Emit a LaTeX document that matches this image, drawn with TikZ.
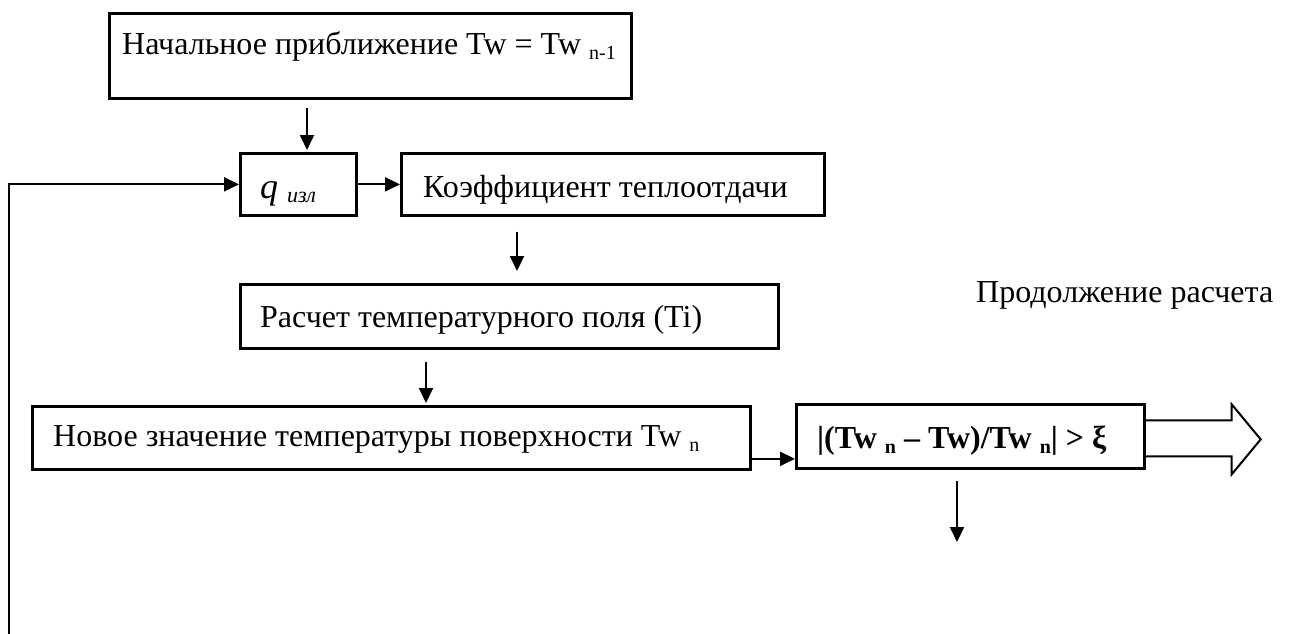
\documentclass[tikz,border=0pt]{standalone}
\usepackage{fontspec}
\setmainfont{Liberation Serif}
\usetikzlibrary{arrows.meta}
\newcommand{\sbs}[1]{\raisebox{-5pt}{\fontsize{20}{20}\selectfont #1}}
\tikzset{
  x=1pt, y=-1pt,
  box/.style={draw, line width=2.7pt, inner sep=0pt, anchor=north west},
  txt/.style={inner sep=0pt, anchor=base west, font=\fontsize{32}{38}\selectfont},
  arr/.style={line width=2pt, -{Triangle[length=15pt,width=14pt]}},
}
\begin{document}
\begin{tikzpicture}
\useasboundingbox (0,0) rectangle (1294,634);
% boxes
\node[box, minimum width=522, minimum height=85] (init) at (108,12) {};
\node[box, minimum width=116, minimum height=62] (q) at (239,152) {};
\node[box, minimum width=423, minimum height=62] (K) at (400,152) {};
\node[box, minimum width=538, minimum height=64] (R) at (239,283) {};
\node[box, minimum width=718, minimum height=63] (N) at (31,405) {};
\node[box, minimum width=348, minimum height=64] (C) at (795,403) {};
% texts
\node[txt] (initT) at (122,55) {Начальное приближение Tw = Tw \sbs{n-1}};
\node[txt] (qT) at (260,198) {\fontsize{36}{36}\selectfont\itshape q};
\node[txt] (qS) at (287,202) {\fontsize{22}{22}\selectfont\itshape изл};
\node[txt] (KT) at (423,197) {Коэффициент теплоотдачи};
\node[txt] (RT) at (260,327) {Расчет температурного поля (Ti)};
\node[txt] (NT) at (53,446) {Новое значение температуры поверхности Tw \sbs{n}};
\node[txt, font=\fontsize{32}{38}\selectfont\bfseries] (CT) at (817,448) {|(Tw \sbs{\bfseries n} – Tw)/Tw \sbs{\bfseries n}| > ξ};
\node[txt] (PT) at (976,302) {Продолжение расчета};
% connectors
\coordinate (fb) at (9,634);
\coordinate (down) at (957,542);
\draw[arr, shorten <=8pt, shorten >=2pt] ([xshift=199pt]init.south west) -- ([xshift=68pt]q.north west);
\draw[arr] (fb) |- (q.west);
\draw[arr] (q.east) -- (K.west);
\draw[arr, shorten <=15pt, shorten >=12pt] ([xshift=117pt]K.south west) -- ([xshift=278pt]R.north west);
\draw[arr, shorten <=12pt, shorten >=2pt] ([xshift=187pt]R.south west) -- ([xshift=395pt]N.north west);
\draw[arr] ([yshift=-21pt]N.east) -- ([yshift=-21pt]C.west |- N.east);
\draw[arr, shorten <=11pt] (C.south -| down) -- (down);
% block arrow
\draw[line width=2pt, line join=miter]
  ([yshift=16pt]C.east) -- ++(86,0) -- ++(0,-16) -- ++(29,35) -- ++(-29,35) -- ++(0,-18) -- ([yshift=-20pt]C.east);
\end{tikzpicture}
\end{document}
